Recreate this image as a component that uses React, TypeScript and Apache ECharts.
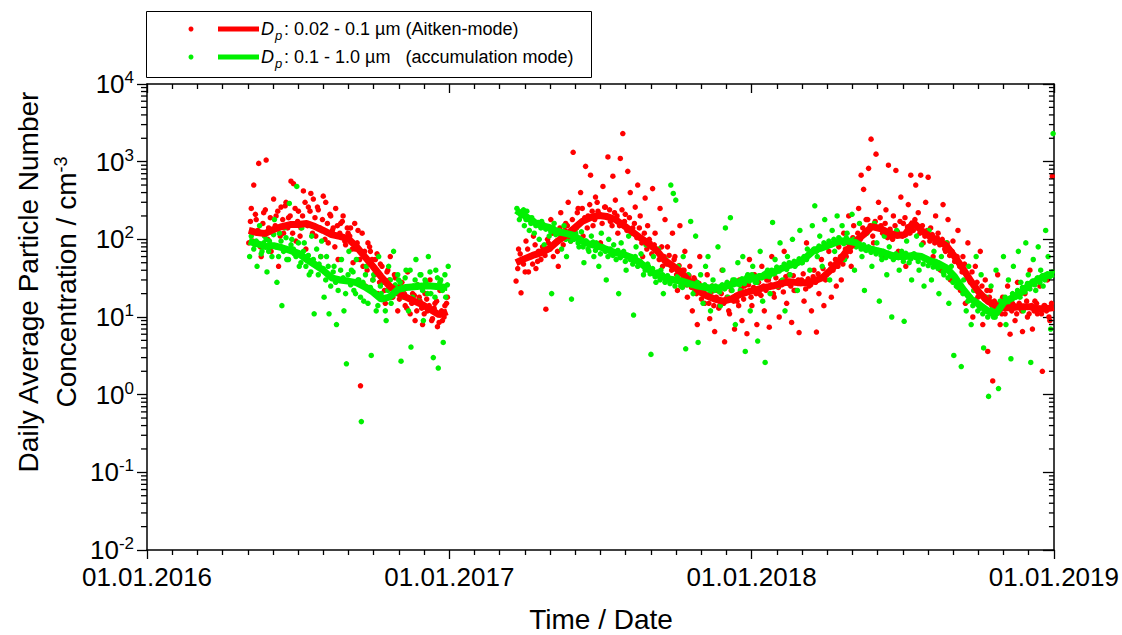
import React, { useEffect, useRef } from "react";
import * as echarts from "echarts";

const FONT = "'Liberation Sans', Arial, Helvetica, sans-serif";
const RED = "#ff0000";
const GREEN = "#00f000";

const ORIGIN_DATE = "2016-01-01";
const END_DATE = "2019-01-01";
const YEAR_TICK_LABELS = ["01.01.2016", "01.01.2017", "01.01.2018", "01.01.2019"];
const Y_MIN = 0.01;
const Y_MAX = 10000;

const DOT_STEP_DAYS = 3;
const LINE_STEP_DAYS = 10;

// Daily averages (sampled every 3 days), Aitken mode, 2016 campaign
const aitkenDots2016Start = "2016-05-03";
const aitkenDots2016 = [
  90, 250, 500, 180, 950, 60, 220, 1050, 140, 70,
  330, 200, 45, 260, 120, 300, 190, 560, 520, 95,
  230, 140, 420, 75, 260, 390, 330, 110, 240, 60,
  360, 300, 90, 200, 140, 250, 55, 160, 200, 85,
  120, 140, 50, 75, 130, 1.3, 45, 25, 90, 70,
  30, 55, 20, 48, 28, 15, 40, 60, 18, 32,
  12, 25, 22, 14, 38, 11, 20, 9, 26, 16,
  8, 20, 12, 30, 9.5, 15, 7.5, 22, 9, 14, 18,
];
const aitkenDots2016bStart = "2016-05-05";
const aitkenDots2016b = [
  170, 95, 210, 130, 80, 160, 240, 100, 190, 120,
  150, 230, 110, 180, 270, 140, 200, 120, 250, 170,
  110, 200, 300, 150, 230, 120, 190, 260, 140, 180,
  100, 160, 210, 130, 80, 150, 120, 170, 95, 140,
  110, 75, 160, 90, 55, 120, 70, 40, 80, 55,
  35, 65, 28, 45, 22, 38, 30, 18, 35, 24,
  17, 28, 20, 13, 24, 15, 19, 12, 18, 13,
  11, 17, 14, 9, 13, 16, 8.5, 12, 10, 15,
];

// Accumulation mode, 2016 campaign
const accumDots2016Start = "2016-05-04";
const accumDots2016 = [
  60, 130, 85, 45, 150, 70, 110, 38, 95, 60,
  180, 28, 120, 14, 140, 55, 290, 100, 65, 480,
  45, 140, 90, 60, 35, 110, 11, 75, 48, 95,
  18, 60, 11, 33, 45, 8, 30, 55, 12, 2.5,
  70, 40, 22, 55, 30, 0.45, 16, 45, 24, 3.2,
  35, 12, 60, 20, 28, 9, 45, 15, 70, 22,
  30, 2.7, 18, 40, 12, 4.1, 25, 55, 16, 35,
  9, 28, 60, 20, 3, 40, 2.2, 30, 4.7, 18, 45,
];
const accumDots2016bStart = "2016-05-06";
const accumDots2016b = [
  110, 75, 95, 120, 65, 90, 100, 70, 85, 115,
  80, 60, 95, 70, 105, 55, 85, 75, 60, 90,
  50, 70, 45, 62, 38, 55, 48, 35, 60, 42,
  30, 45, 25, 38, 28, 22, 40, 32, 20, 35,
  26, 38, 20, 30, 18, 28, 35, 15, 24, 30,
  20, 14, 25, 17, 12, 22, 30, 19, 26, 35,
  28, 20, 32, 24, 40, 18, 30, 26, 35, 22,
  30, 20, 38, 25, 18, 32, 28, 22, 35, 26,
];

// Aitken mode, 2017-2018 campaign
const aitkenDots2017Start = "2017-03-22";
const aitkenDots2017 = [
  29, 75, 20.5, 48, 95, 38, 60, 110, 42, 70,
  55, 150, 12.6, 90, 180, 60, 130, 45, 220, 85,
  160, 300, 95, 1320, 140, 250, 400, 110, 870, 200,
  670, 150, 350, 230, 90, 480, 260, 1150, 170, 650,
  320, 120, 1100, 2300, 210, 750, 400, 140, 260, 500,
  200, 60, 340, 150, 90, 450, 120, 70, 250, 45,
  180, 80, 30, 120, 60, 22, 150, 40, 70, 18,
  45, 12, 30, 8, 60, 20, 15, 35, 9.5, 25,
  6.5, 22, 14, 40, 4.8, 18, 11, 28, 7, 16,
  30, 9, 25, 6.1, 55, 14, 35, 8, 20, 45,
  12, 30, 7.4, 60, 18, 40, 10, 26, 70, 15,
  35, 8.5, 22, 50, 6.3, 30, 16, 90, 25, 12,
  40, 6.4, 20, 55, 14, 35, 70, 18, 45, 25,
  80, 30, 120, 60, 200, 45, 150, 90, 250, 670,
  440, 180, 820, 1950, 90, 1250, 300, 150, 60, 240,
  900, 110, 200, 770, 70, 350, 160, 45, 280, 670,
  130, 500, 220, 670, 90, 300, 630, 140, 60, 200,
  120, 40, 280, 70, 180, 30, 95, 55, 130, 22,
  60, 15, 90, 28, 10, 45, 18, 70, 8, 30,
  3.6, 22, 1.5, 12, 35, 8, 18, 11, 25, 6,
  15, 9, 28, 13, 6.5, 20, 10, 40, 7, 16,
  11, 25, 2, 14, 30, 9, 650,
];
const aitkenDots2017bStart = "2017-03-24";
const aitkenDots2017b = [
  42, 65, 55, 38, 75, 60, 48, 85, 52, 70,
  80, 62, 100, 75, 120, 90, 70, 140, 105, 130,
  150, 100, 180, 130, 220, 160, 250, 190, 140, 280,
  230, 180, 300, 210, 160, 260, 190, 240, 150, 220,
  200, 150, 240, 170, 130, 190, 120, 160, 105, 140,
  90, 120, 75, 100, 65, 85, 70, 55, 80, 60,
  48, 62, 40, 55, 35, 46, 30, 40, 26, 34,
  24, 32, 20, 27, 17, 22, 19, 15, 21, 14,
  18, 13, 20, 15, 17, 12, 22, 16, 19, 14,
  23, 17, 21, 26, 18, 24, 20, 28, 19, 25,
  22, 30, 26, 20, 32, 24, 29, 21, 33, 27,
  25, 34, 22, 30, 27, 36, 23, 31, 26, 33,
  28, 36, 32, 42, 30, 38, 48, 40, 55, 45,
  60, 48, 75, 90, 70, 105, 85, 120, 100, 140,
  130, 180, 150, 110, 170, 140, 190, 120, 160, 105,
  135, 100, 150, 125, 170, 110, 190, 145, 120, 160,
  180, 140, 120, 150, 110, 130, 95, 115, 90, 105,
  85, 100, 75, 90, 62, 70, 52, 60, 45, 38,
  48, 35, 30, 38, 24, 28, 20, 25, 17, 22,
  18, 14, 16, 12, 15, 11, 17, 13, 14, 12,
  14, 11, 15, 12, 13, 16, 11, 14, 12, 15,
  13, 11, 14, 12, 10, 15,
];

// Accumulation mode, 2017-2018 campaign
const accumDots2017Start = "2017-03-23";
const accumDots2017 = [
  250, 180, 210, 150, 230, 130, 190, 120, 160, 100,
  170, 85, 140, 110, 20, 160, 95, 130, 75, 150,
  60, 115, 17, 100, 140, 80, 125, 50, 95, 70,
  110, 60, 90, 45, 120, 75, 30, 100, 65, 85,
  55, 20, 90, 70, 40, 110, 60, 10.6, 80, 50,
  65, 35, 85, 45, 3.3, 60, 28, 75, 40, 20,
  55, 30, 500, 390, 320, 45, 25, 60, 3.9, 35,
  170, 20, 110, 4.7, 35, 15, 45, 60, 12, 30,
  25, 80, 14, 40, 140, 18, 190, 30, 8, 50,
  22, 60, 3.6, 35, 12, 45, 28, 4.9, 70, 16,
  2.6, 40, 20, 165, 55, 25, 90, 30, 12, 60,
  35, 100, 45, 22, 130, 50, 28, 75, 40, 150,
  270, 60, 110, 45, 180, 85, 30, 130, 70, 200,
  95, 150, 55, 120, 80, 210, 40, 100, 160, 60,
  22, 120, 75, 45, 160, 90, 16, 55, 110, 35,
  80, 10, 60, 130, 40, 70, 8.8, 95, 50, 30,
  65, 110, 40, 85, 25, 55, 130, 30, 70, 45,
  20, 60, 35, 90, 15, 45, 3.2, 25, 50, 2.3,
  30, 12, 45, 8, 22, 60, 14, 35, 4, 18,
  0.95, 25, 10, 40, 1.2, 15, 60, 8, 30, 2.9,
  45, 18, 70, 28, 12, 90, 35, 2.6, 55, 22,
  80, 40, 25, 130, 60, 7, 2300,
];
const accumDots2017bStart = "2017-03-25";
const accumDots2017b = [
  220, 200, 240, 180, 190, 160, 175, 150, 165, 140,
  155, 135, 145, 125, 140, 115, 130, 110, 125, 100,
  115, 95, 105, 120, 90, 100, 80, 95, 75, 88,
  92, 72, 85, 65, 80, 70, 60, 75, 62, 68,
  72, 58, 66, 52, 62, 55, 48, 60, 45, 52,
  46, 40, 48, 36, 42, 33, 38, 30, 35, 28,
  34, 27, 31, 25, 33, 28, 24, 30, 26, 29,
  25, 22, 28, 24, 21, 26, 23, 20, 25, 22,
  24, 21, 26, 23, 28, 25, 22, 30, 27, 26,
  31, 27, 33, 29, 35, 30, 28, 34, 32, 36,
  38, 33, 40, 36, 44, 39, 42, 48, 41, 50,
  46, 52, 48, 56, 50, 60, 55, 65, 68, 75,
  70, 82, 76, 90, 80, 95, 85, 100, 92, 105,
  98, 88, 105, 92, 85, 100, 80, 90, 75, 85,
  72, 80, 68, 75, 65, 72, 62, 70, 58, 66,
  60, 55, 65, 58, 62, 52, 66, 60, 56, 64,
  58, 52, 60, 48, 55, 46, 50, 44, 52, 42,
  45, 38, 40, 32, 35, 28, 30, 24, 26, 20,
  21, 16, 18, 14, 16, 12, 13, 11, 12, 10,
  11, 13, 10, 14, 16, 13, 18, 15, 17, 20,
  19, 22, 18, 24, 21, 27, 23, 29, 26, 32,
  28, 34, 30, 36, 33, 38,
];

// Running averages (every 10 days)
const aitkenLine2016Start = "2016-05-03";
const aitkenLine2016 = [
  130, 122, 119, 134, 146, 155, 155, 160, 146, 130,
  115, 109, 102, 81, 60, 45, 33, 25, 20.5, 18,
  16, 14.4, 12.4, 10.7, 11.7,
];
const accumLine2016Start = "2016-05-03";
const accumLine2016 = [
  94, 88, 81, 83, 78, 72, 66, 55, 47, 40,
  32, 30, 29, 27.7, 24.5, 21, 17, 18, 22.5, 24,
  24.5, 25, 25, 24.5, 24,
];
const aitkenLine2017Start = "2017-03-22";
const aitkenLine2017 = [
  50, 56, 62, 67, 76, 94, 112, 138, 170, 191,
  203, 197, 180, 151, 126, 105, 88, 72, 53, 45,
  37, 28.5, 21.8, 18.8, 17, 16, 17, 19.4, 21, 22.4,
  24, 25, 26.9, 28.5, 27.7, 27.7, 29, 32, 40, 52,
  72, 94, 115, 146, 138, 122, 112, 115, 165, 130,
  109, 96, 83, 60, 42, 28.5, 20.5, 16, 14, 13.2,
  13.2, 13.6, 13.6, 12.8, 12.8, 13.2,
];
const accumLine2017Start = "2017-03-22";
const accumLine2017 = [
  236, 203, 170, 151, 142, 126, 119, 112, 94, 86,
  81, 74, 67, 64, 58, 50, 41, 35, 32, 30,
  29, 26.9, 25, 24, 23, 24.5, 26, 28.5, 31, 32,
  34, 37, 42, 46, 50, 58, 72, 78, 86, 94,
  96, 91, 78, 74, 70, 64, 60, 60, 62, 60,
  53, 49, 43, 33, 23, 17, 14.4, 12, 11, 15.7,
  17.7, 20.5, 26, 30, 34, 36,
];

const DAY_MS = 86400000;
const dayOf = (s: string) =>
  Math.round((Date.parse(s + "T00:00:00Z") - Date.parse(ORIGIN_DATE + "T00:00:00Z")) / DAY_MS);
const X_MAX = dayOf(END_DATE);
const X_INTERVAL = X_MAX / 3;

const toPairs = (start: string, step: number, values: number[]) => {
  const d0 = dayOf(start);
  return values.map((v, i) => [d0 + i * step, v]);
};

const minorLogTicks: number[][] = [];
for (let e = -2; e < 4; e++) {
  for (let m = 2; m <= 9; m++) minorLogTicks.push([0, m * Math.pow(10, e)]);
}

export default function App() {
  const ref = useRef<HTMLDivElement>(null);
  useEffect(() => {
    if (!ref.current) return;
    const chart = echarts.init(ref.current, undefined, { renderer: "svg" });
    const axisLineStyle = { color: "#000", width: 1.5 };
    const tickStyle = { color: "#000", width: 1.3 };
    const dotSeries = (data: number[][], color: string) => ({
      type: "scatter",
      data,
      symbol: "circle",
      symbolSize: 5.5,
      itemStyle: { color, opacity: 1 },
      z: 2,
      silent: true,
    });
    const lineSeries = (data: number[][], color: string, z: number) => ({
      type: "line",
      data,
      showSymbol: false,
      symbol: "none",
      lineStyle: { color, width: 7 },
      z,
      silent: true,
    });
    const option: any = {
      animation: false,
      backgroundColor: "#fff",
      grid: { left: 147, right: 67, top: 84, bottom: 85, containLabel: false },
      xAxis: [
        {
          type: "value",
          position: "bottom",
          min: 0,
          max: X_MAX,
          interval: X_INTERVAL,
          axisLine: { show: true, onZero: false, lineStyle: axisLineStyle },
          axisTick: { show: true, inside: false, length: 9, lineStyle: tickStyle },
          minorTick: { show: true, splitNumber: 12, length: 5, lineStyle: tickStyle },
          splitLine: { show: false },
          minorSplitLine: { show: false },
          axisLabel: {
            color: "#000",
            fontSize: 26,
            fontFamily: FONT,
            margin: 14,
            formatter: (v: number) => YEAR_TICK_LABELS[Math.round(v / X_INTERVAL)] ?? "",
          },
        },
        {
          type: "value",
          position: "top",
          min: 0,
          max: X_MAX,
          interval: X_INTERVAL,
          axisLine: { show: true, onZero: false, lineStyle: axisLineStyle },
          axisTick: { show: true, inside: true, length: 9, lineStyle: tickStyle },
          minorTick: { show: true, splitNumber: 12, length: 5, lineStyle: tickStyle },
          splitLine: { show: false },
          axisLabel: { show: false },
        },
      ],
      yAxis: [
        {
          type: "log",
          logBase: 10,
          position: "left",
          min: Y_MIN,
          max: Y_MAX,
          splitNumber: 6,
          axisLine: { show: true, onZero: false, lineStyle: axisLineStyle },
          axisTick: { show: true, inside: false, length: 10, lineStyle: tickStyle },
          splitLine: { show: false },
          axisLabel: {
            color: "#000",
            margin: 13,
            formatter: (v: number) => `{b|10}{s|${Math.round(Math.log10(v))}}`,
            rich: {
              b: { fontSize: 26, fontFamily: FONT, color: "#000", lineHeight: 30 },
              s: { fontSize: 17, fontFamily: FONT, color: "#000", verticalAlign: "top", lineHeight: 18 },
            },
          },
        },
        {
          type: "log",
          logBase: 10,
          position: "right",
          min: Y_MIN,
          max: Y_MAX,
          splitNumber: 6,
          axisLine: { show: true, onZero: false, lineStyle: axisLineStyle },
          axisTick: { show: true, inside: true, length: 11, lineStyle: tickStyle },
          splitLine: { show: false },
          axisLabel: { show: false },
        },
      ],
      series: [
        dotSeries(toPairs(aitkenDots2016Start, DOT_STEP_DAYS, aitkenDots2016), RED),
        dotSeries(toPairs(aitkenDots2016bStart, DOT_STEP_DAYS, aitkenDots2016b), RED),
        dotSeries(toPairs(aitkenDots2017Start, DOT_STEP_DAYS, aitkenDots2017), RED),
        dotSeries(toPairs(aitkenDots2017bStart, DOT_STEP_DAYS, aitkenDots2017b), RED),
        dotSeries(toPairs(accumDots2016Start, DOT_STEP_DAYS, accumDots2016), GREEN),
        dotSeries(toPairs(accumDots2016bStart, DOT_STEP_DAYS, accumDots2016b), GREEN),
        dotSeries(toPairs(accumDots2017Start, DOT_STEP_DAYS, accumDots2017), GREEN),
        dotSeries(toPairs(accumDots2017bStart, DOT_STEP_DAYS, accumDots2017b), GREEN),
        lineSeries(toPairs(aitkenLine2016Start, LINE_STEP_DAYS, aitkenLine2016), RED, 3),
        lineSeries(toPairs(aitkenLine2017Start, LINE_STEP_DAYS, aitkenLine2017), RED, 3),
        lineSeries(toPairs(accumLine2016Start, LINE_STEP_DAYS, accumLine2016), GREEN, 4),
        lineSeries(toPairs(accumLine2017Start, LINE_STEP_DAYS, accumLine2017), GREEN, 4),
        {
          type: "custom",
          data: minorLogTicks,
          clip: false,
          silent: true,
          z: 5,
          renderItem: (_p: any, api: any) => {
            const v = api.value(1);
            const l = api.coord([0, v]);
            const r = api.coord([X_MAX, v]);
            return {
              type: "group",
              children: [
                { type: "line", shape: { x1: l[0] - 6, y1: l[1], x2: l[0], y2: l[1] }, style: { stroke: "#000", lineWidth: 1.3 } },
                { type: "line", shape: { x1: r[0] - 5, y1: r[1], x2: r[0], y2: r[1] }, style: { stroke: "#000", lineWidth: 1.3 } },
              ],
            };
          },
        },
      ],
      graphic: [
        { type: "rect", shape: { x: 146.5, y: 11.5, width: 445, height: 66 }, style: { fill: "#fff", stroke: "#000", lineWidth: 1 }, z: 10 },
        { type: "circle", shape: { cx: 191, cy: 29, r: 2.5 }, style: { fill: RED }, z: 11 },
        { type: "line", shape: { x1: 218, y1: 29, x2: 259, y2: 29 }, style: { stroke: RED, lineWidth: 5 }, z: 11 },
        { type: "text", x: 261, y: 29, style: { text: "D", font: `italic 18px ${FONT}`, fill: "#000", textVerticalAlign: "middle" }, z: 11 },
        { type: "text", x: 275, y: 35, style: { text: "p", font: `italic 13px ${FONT}`, fill: "#000", textVerticalAlign: "middle" }, z: 11 },
        { type: "text", x: 284, y: 29, style: { text: ": 0.02 - 0.1 µm (Aitken-mode)", font: `18px ${FONT}`, fill: "#000", textVerticalAlign: "middle" }, z: 11 },
        { type: "circle", shape: { cx: 191, cy: 57, r: 2.5 }, style: { fill: GREEN }, z: 11 },
        { type: "line", shape: { x1: 218, y1: 57, x2: 259, y2: 57 }, style: { stroke: GREEN, lineWidth: 5 }, z: 11 },
        { type: "text", x: 261, y: 57, style: { text: "D", font: `italic 18px ${FONT}`, fill: "#000", textVerticalAlign: "middle" }, z: 11 },
        { type: "text", x: 275, y: 63, style: { text: "p", font: `italic 13px ${FONT}`, fill: "#000", textVerticalAlign: "middle" }, z: 11 },
        { type: "text", x: 284, y: 57, style: { text: ": 0.1 - 1.0 µm   (accumulation mode)", font: `18px ${FONT}`, fill: "#000", textVerticalAlign: "middle" }, z: 11 },
        {
          type: "text", x: 28, y: 282, rotation: Math.PI / 2,
          style: { text: "Daily Average Particle Number", font: `28px ${FONT}`, fill: "#000", textAlign: "center", textVerticalAlign: "middle" },
        },
        {
          type: "text", x: 66, y: 282, rotation: Math.PI / 2,
          style: {
            text: "Concentration / cm{s|-3}", font: `28px ${FONT}`, fill: "#000", textAlign: "center", textVerticalAlign: "middle",
            rich: { s: { fontSize: 18, fontFamily: FONT, fill: "#000", verticalAlign: "top", lineHeight: 18 } },
          },
        },
        {
          type: "text", x: 601, y: 619,
          style: { text: "Time / Date", font: `28px ${FONT}`, fill: "#000", textAlign: "center", textVerticalAlign: "middle" },
        },
      ],
    };
    chart.setOption(option);
    return () => chart.dispose();
  }, []);
  return (
    <div
      ref={ref}
      style={{ position: "fixed", left: 0, top: 0, width: 1122, height: 635, background: "#fff" }}
    />
  );
}
